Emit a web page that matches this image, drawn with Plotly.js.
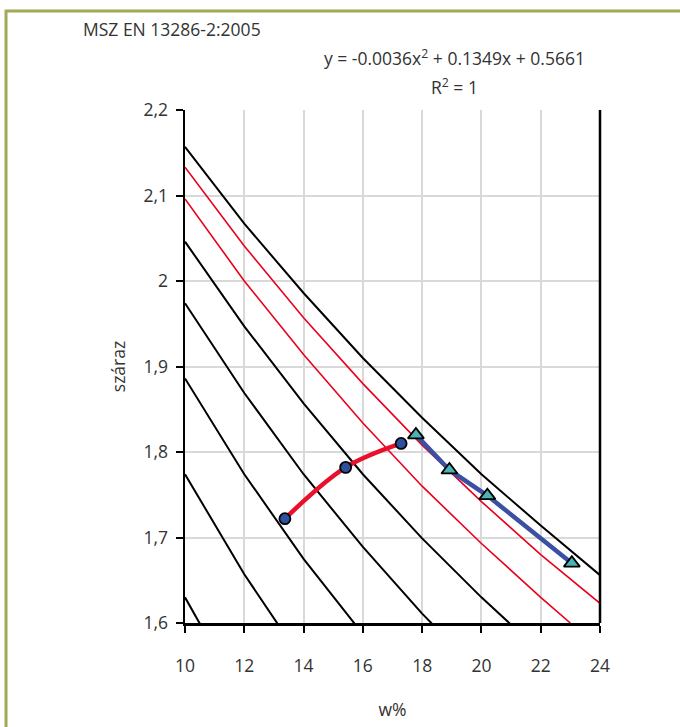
<!DOCTYPE html>
<html>
<head>
<meta charset="utf-8">
<script src="https://cdn.plot.ly/plotly-3.0.1.min.js"></script>
<style>html,body{margin:0;padding:0;background:#fff;}#chart{width:680px;height:727px;}</style>
</head>
<body>
<div id="chart"></div>
<script>
// ---- data ----
const wGrid = [10, 12, 14, 16, 18, 20, 22, 24];
const sat100 = [2.157, 2.067, 1.986, 1.910, 1.840, 1.774, 1.714, 1.656];
const red95  = [2.133, 2.041, 1.957, 1.880, 1.808, 1.742, 1.680, 1.623];
const red88x = [10, 12, 14, 16, 18, 20, 22, 23];
const red88  = [2.096, 2.000, 1.914, 1.834, 1.760, 1.693, 1.630, 1.600];
const sat80x = [10, 12, 14, 16, 18, 20, 22];
const sat80  = [2.046, 1.947, 1.857, 1.774, 1.699, 1.630, 1.566];
const sat70x = [10, 12, 14, 16, 18, 20];
const sat70  = [1.974, 1.869, 1.774, 1.689, 1.611, 1.540];
const sat60x = [10, 12, 14, 16];
const sat60  = [1.886, 1.774, 1.675, 1.587];
const sat50x = [10, 12, 14];
const sat50  = [1.774, 1.657, 1.554];
const sat40x = [10, 12];
const sat40  = [1.630, 1.507];

const circW = [13.37, 15.42, 17.29];
const circD = [1.722, 1.782, 1.810];
const triW  = [17.79, 18.92, 20.20, 23.05];
const triD  = [1.820, 1.779, 1.749, 1.670];

const xTicks = [10, 12, 14, 16, 18, 20, 22, 24];
const yTicks = [1.6, 1.7, 1.8, 1.9, 2.0, 2.1, 2.2];
const yTickText = ['1,6', '1,7', '1,8', '1,9', '2', '2,1', '2,2'];

const titleText = 'MSZ EN 13286-2:2005';
const eqText = 'y = -0.0036x<sup>2</sup> + 0.1349x + 0.5661';
const r2Text = 'R<sup>2</sup> = 1';

// ---- traces ----
function blk(x, y) {
  return {x: x, y: y, type: 'scatter', mode: 'lines', line: {color: '#000000', width: 2}, hoverinfo: 'skip'};
}
function red(x, y) {
  return {x: x, y: y, type: 'scatter', mode: 'lines', line: {color: '#e8001c', width: 1.6}, hoverinfo: 'skip'};
}
const traces = [
  blk(sat40x, sat40), blk(sat50x, sat50), blk(sat60x, sat60), blk(sat70x, sat70), blk(sat80x, sat80),
  red(red88x, red88), red(wGrid, red95), blk(wGrid, sat100),
  {x: circW, y: circD, type: 'scatter', mode: 'lines', line: {color: '#e8102a', width: 4.5, shape: 'spline'}, hoverinfo: 'skip'},
  {x: triW, y: triD, type: 'scatter', mode: 'lines', line: {color: '#3b4fa3', width: 4.5}, hoverinfo: 'skip'},
  {x: circW, y: circD, type: 'scatter', mode: 'markers', marker: {symbol: 'circle', size: 11, color: '#2f4f9f', line: {color: '#000', width: 1.8}}, hoverinfo: 'skip'},
  {x: triW, y: triD, type: 'scatter', mode: 'markers', marker: {symbol: 'triangle-up', size: 14, color: '#4bb3b3', line: {color: '#000', width: 1.8}}, hoverinfo: 'skip'}
];

const FS = 17.5;
const font = {family: '"Open Sans", "DejaVu Sans", sans-serif', size: FS, color: '#333333'};

const layout = {
  width: 680, height: 727,
  margin: {l: 185, r: 80, t: 110, b: 104},
  paper_bgcolor: '#ffffff', plot_bgcolor: '#ffffff',
  showlegend: false,
  font: font,
  xaxis: {
    range: [10, 24], tickvals: xTicks, ticktext: xTicks.map(String),
    showgrid: true, gridcolor: '#d9d9d9', gridwidth: 2,
    showline: true, linecolor: '#000', linewidth: 2.5,
    ticks: 'outside', ticklen: 7, tickwidth: 2, tickcolor: '#000',
    ticklabelstandoff: 18,
    zeroline: false, tickfont: {size: FS, color: '#333'},
    title: {text: 'w%', standoff: 28, font: {size: FS, color: '#333'}}
  },
  yaxis: {
    range: [1.6, 2.2], tickvals: yTicks, ticktext: yTickText,
    showgrid: true, gridcolor: '#d9d9d9', gridwidth: 2,
    showline: true, linecolor: '#000', linewidth: 2.5,
    ticks: 'outside', ticklen: 7, tickwidth: 2, tickcolor: '#000',
    ticklabelstandoff: 4,
    zeroline: false, tickfont: {size: FS, color: '#333'},
    title: {text: 'száraz', standoff: 14, font: {size: FS, color: '#333'}}
  },
  shapes: [
    {type: 'line', xref: 'paper', yref: 'paper', x0: 1, x1: 1, y0: 0, y1: 1, line: {color: '#000', width: 2.5}},
    {type: 'rect', xref: 'paper', yref: 'paper', x0: -0.4313, x1: 1.5, y0: -0.5, y1: 1.193, line: {color: '#a3aa55', width: 3}, fillcolor: 'rgba(0,0,0,0)'}
  ],
  annotations: [
    {text: titleText, xref: 'paper', yref: 'paper', x: -0.25, y: 1.158, xanchor: 'left', yanchor: 'middle', showarrow: false, font: {size: FS, color: '#333'}},
    {text: eqText, xref: 'paper', yref: 'paper', x: 0.65, y: 1.103, xanchor: 'center', yanchor: 'middle', showarrow: false, font: {size: FS, color: '#333'}},
    {text: r2Text, xref: 'paper', yref: 'paper', x: 0.65, y: 1.045, xanchor: 'center', yanchor: 'middle', showarrow: false, font: {size: FS, color: '#333'}}
  ]
};

Plotly.newPlot('chart', traces, layout, {displayModeBar: false, staticPlot: true});
</script>
</body>
</html>
